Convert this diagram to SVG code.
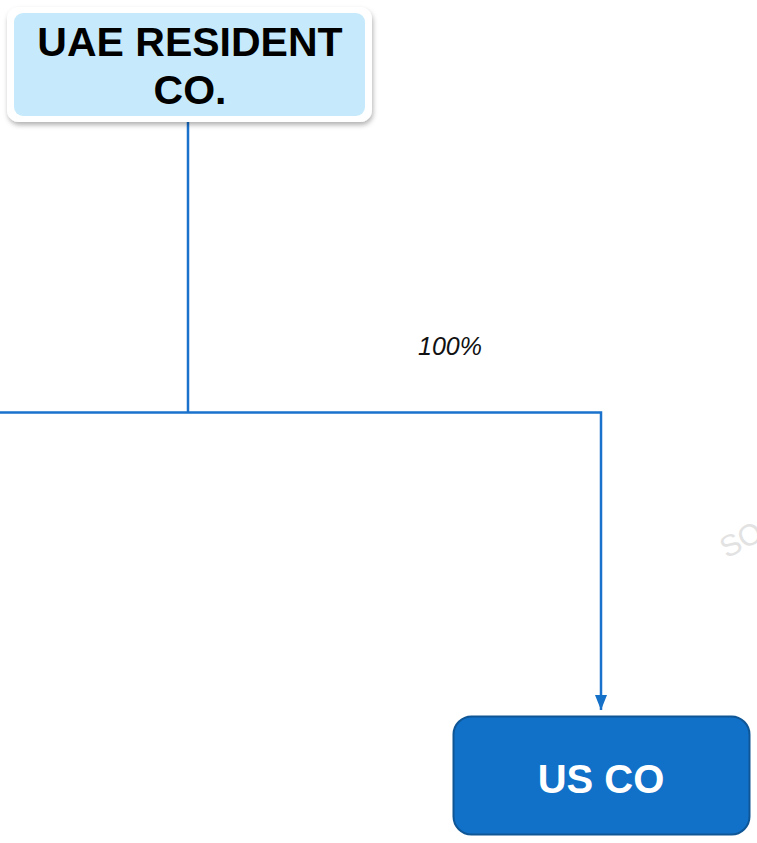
<svg xmlns="http://www.w3.org/2000/svg" width="757" height="843" viewBox="0 0 757 843">
<defs>
<filter id="sh" x="-10%" y="-10%" width="120%" height="130%">
<feDropShadow dx="1" dy="3" stdDeviation="2.5" flood-color="#000" flood-opacity="0.3"/>
</filter>
<marker id="arr" viewBox="0 0 15 12" refX="15" refY="6" markerWidth="15" markerHeight="12" markerUnits="userSpaceOnUse" orient="auto">
<path d="M0,0 L15,6 L0,12 Z" fill="#1570c8"/>
</marker>
<style>
.ln{fill:none;stroke:#1a72cc;stroke-width:2.5}
.t{font-family:"Liberation Sans",Arial,sans-serif;font-weight:bold;text-anchor:middle}
</style>
</defs>
<rect width="757" height="843" fill="#fff"/>
<text x="722" y="560" transform="rotate(-28 722 550)" font-family="Liberation Sans,Arial,sans-serif" font-size="30" fill="#e2e2e2">SO</text>
<g id="connectors">
<path class="ln" d="M188,117 V412.5"/>
<path class="ln" d="M0,412.5 H601 V710" marker-end="url(#arr)"/>
<text x="450" y="355" font-family="Liberation Sans,Arial,sans-serif" font-style="italic" font-size="25" text-anchor="middle" fill="#111">100%</text>
</g>
<g id="uae">
<rect x="7" y="7" width="365" height="115" rx="12" fill="#fff" filter="url(#sh)"/>
<rect x="14" y="13" width="351" height="103" rx="9" fill="#c6eafc"/>
<text class="t" x="190" y="56" font-size="41" fill="#000">UAE RESIDENT</text>
<text class="t" x="190" y="104" font-size="41" fill="#000">CO.</text>
</g>
<g id="usco">
<rect x="453.5" y="716.5" width="296" height="118" rx="18" fill="#1170c8" stroke="#0e5696" stroke-width="2"/>
<text class="t" x="601" y="793" font-size="40" fill="#fff">US CO</text>
</g>
</svg>
